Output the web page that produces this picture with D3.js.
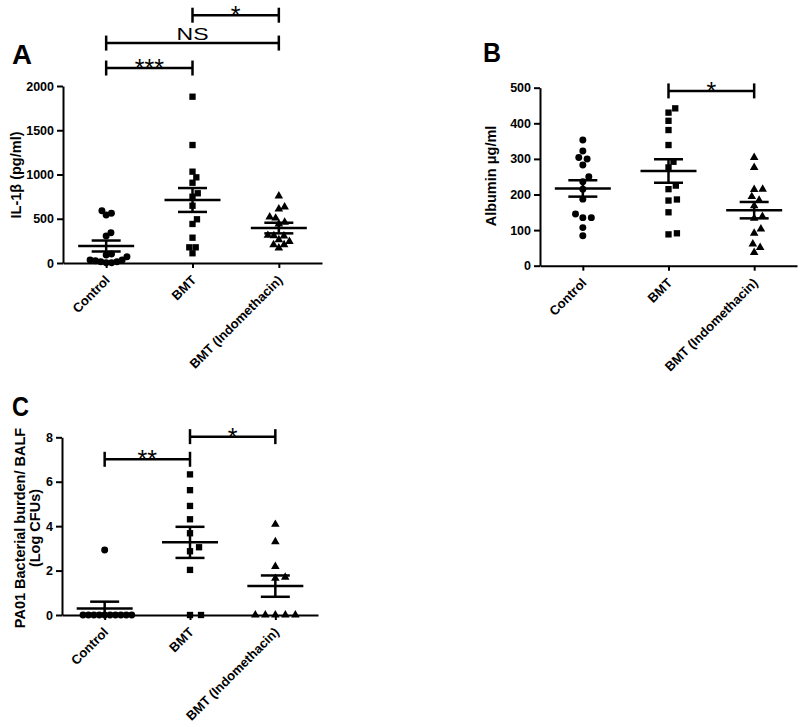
<!DOCTYPE html>
<html><head><meta charset="utf-8">
<script src="https://cdn.jsdelivr.net/npm/d3@7"></script>
<style>
body{margin:0;background:#fff}
svg{display:block}
text{font-family:"Liberation Sans",Arial,Helvetica,sans-serif}
</style>
</head><body>
<svg id="chart" width="800" height="727"></svg>
<script>
// ---------------- DATA ----------------
const categories = ["Control", "BMT", "BMT (Indomethacin)"];

// Panel A: IL-1β (pg/ml)
const il1bControl = [591, 542, 561, 342, 305, 102, 71, 34, 15, 3, 3, 15, 26, 34, 90];
const il1bBMT     = [1879, 1333, 1032, 968, 907, 788, 749, 647, 494, 441, 286, 177, 177, 110];
const il1bIndo    = [757, 610, 632, 519, 507, 460, 440, 263, 308, 305, 312, 244, 207, 207, 169];
const il1bMean    = [192, 712, 395];
const il1bSem     = [62, 135, 60];
const il1bTicks   = [0, 500, 1000, 1500, 2000];
const il1bSigFrom = [1, 0, 0];
const il1bSigTo   = [2, 2, 1];
const il1bSigAt   = [2800, 2485, 2203];
const il1bSigText = ["*", "NS", "***"];

// Panel B: Albumin μg/ml
const albControl = [353, 322, 304, 300, 283, 250, 236, 215, 187, 135, 135, 145, 107, 84];
const albBMT     = [442, 430, 407, 381, 339, 292, 276, 225, 215, 183, 186, 150, 88, 91];
const albIndo    = [304, 276, 214, 215, 184, 194, 168, 133, 138, 103, 91, 61, 51, 37];
const albMean    = [217, 266, 156];
const albSem     = [23, 33, 23];
const albTicks   = [0, 100, 200, 300, 400, 500];
const albSigFrom = [1];
const albSigTo   = [2];
const albSigAt   = [491];
const albSigText = ["*"];

// Panel C: PA01 bacterial burden / BALF (Log CFUs)
const cfuControl = [2.93, 0, 0, 0, 0, 0, 0, 0, 0, 0, 0];
const cfuBMT     = [6.33, 5.62, 4.91, 4.31, 3.68, 3.05, 2.87, 2.03, 0, 0];
const cfuIndo    = [4.08, 3.30, 2.18, 1.70, 1.65, 0, 0, 0, 0, 0];
const cfuMean    = [0.29, 3.27, 1.30];
const cfuSem     = [0.31, 0.70, 0.48];
const cfuTicks   = [0, 2, 4, 6, 8];
const cfuSigFrom = [0, 1];
const cfuSigTo   = [1, 2];
const cfuSigAt   = [7.01, 8.03];
const cfuSigText = ["**", "*"];

// ---------------- LAYOUT ----------------
const panels = [
  { letter: "A", lx: 12, ly: 64, lw: 20,
    series: [il1bControl, il1bBMT, il1bIndo], mean: il1bMean, sem: il1bSem,
    ticks: il1bTicks, domain: [0, 2000],
    sig: il1bSigFrom.map((f, i) => ({ a: f, b: il1bSigTo[i], h: il1bSigAt[i], t: il1bSigText[i] })),
    left: 63, right: 322, bottom: 263, top: 86,
    title: ["IL-1β (pg/ml)"], titleX: [16], titleY: 175,
    sx: [5.4, 6, 6], sy: 7 },
  { letter: "B", lx: 483, ly: 62, lw: 18,
    series: [albControl, albBMT, albIndo], mean: albMean, sem: albSem,
    ticks: albTicks, domain: [0, 500],
    sig: albSigFrom.map((f, i) => ({ a: f, b: albSigTo[i], h: albSigAt[i], t: albSigText[i] })),
    left: 540, right: 797, bottom: 265.7, top: 87.7,
    title: ["Albumin μg/ml"], titleX: [491], titleY: 176,
    sx: [8.5, 8.5, 8.5], sy: 7 },
  { letter: "C", lx: 12, ly: 416, lw: 17,
    series: [cfuControl, cfuBMT, cfuIndo], mean: cfuMean, sem: cfuSem,
    ticks: cfuTicks, domain: [0, 8],
    sig: cfuSigFrom.map((f, i) => ({ a: f, b: cfuSigTo[i], h: cfuSigAt[i], t: cfuSigText[i] })),
    left: 62, right: 318, bottom: 615, top: 437.3,
    title: ["PA01 Bacterial burden/ BALF", "(Log CFUs)"], titleX: [20, 35], titleY: 528,
    sx: [5.4, 11, 10], sy: 7 }
];

const svg = d3.select("#chart");
const symbols = [d3.symbolCircle, d3.symbolSquare, d3.symbolTriangle];
const symSize = [38, 40, 32];

function swarm(vals, y, cx, sx, sy) {
  const order = vals.map((v, i) => i).sort((i, j) => vals[i] - vals[j]);
  const placed = [];
  const out = new Array(vals.length);
  order.forEach(i => {
    const py = y(vals[i]);
    const near = placed.filter(p => Math.abs(p.y - py) < sy);
    const cands = [0];
    near.forEach(p => {
      const dy = (p.y - py) / sy;
      const dx = sx * Math.sqrt(Math.max(0, 1 - dy * dy));
      cands.push(p.x + dx + 0.01, p.x - dx - 0.01);
    });
    cands.sort((a, b) => (Math.abs(a) - Math.abs(b)) || (b - a));
    const ok = c => near.every(p => {
      const dx = (c - p.x) / sx, dy = (py - p.y) / sy;
      return dx * dx + dy * dy >= 0.998;
    });
    const x = cands.find(ok);
    placed.push({ x, y: py });
    out[i] = { x: cx + x, y: py, v: vals[i] };
  });
  return out;
}

panels.forEach(P => {
  const g = svg.append("g");
  const x = d3.scalePoint().domain(categories).range([P.left, P.right]).padding(0.5);
  const y = d3.scaleLinear().domain(P.domain).range([P.bottom, P.top]);

  // panel letter
  g.append("text").attr("x", P.lx).attr("y", P.ly)
    .attr("font-size", 28).attr("font-weight", "bold")
    .attr("textLength", P.lw).attr("lengthAdjust", "spacingAndGlyphs")
    .text(P.letter);

  // y axis
  const ya = g.append("g").attr("transform", `translate(${P.left},0)`)
    .call(d3.axisLeft(y).tickValues(P.ticks).tickFormat(d3.format("d"))
      .tickSize(6).tickSizeOuter(0).tickPadding(3));
  ya.select(".domain").attr("stroke-width", 2);
  ya.selectAll(".tick line").attr("stroke-width", 2);
  ya.selectAll(".tick text").attr("font-size", 12.5).attr("font-weight", "bold")
    .attr("font-family", '"Liberation Sans",Arial,sans-serif');

  // x axis
  const xa = g.append("g").attr("transform", `translate(0,${P.bottom})`)
    .call(d3.axisBottom(x).tickSize(5).tickSizeOuter(0));
  xa.select(".domain").attr("stroke-width", 2);
  xa.selectAll(".tick line").attr("stroke-width", 2);
  xa.selectAll(".tick text")
    .attr("font-size", 13).attr("font-weight", "bold")
    .attr("font-family", '"Liberation Sans",Arial,sans-serif')
    .attr("text-anchor", "end")
    .attr("x", 0).attr("y", 0).attr("dy", 0)
    .attr("transform", "translate(4,18) rotate(-45)");

  // y title
  P.title.forEach((t, i) => {
    g.append("text")
      .attr("transform", `translate(${P.titleX[i]},${P.titleY}) rotate(-90)`)
      .attr("text-anchor", "middle").attr("dominant-baseline", "central")
      .attr("font-size", 14.5).attr("font-weight", "bold")
      .text(t);
  });

  // points
  P.series.forEach((vals, gi) => {
    const pts = swarm(vals, y, x(categories[gi]), P.sx[gi], P.sy);
    g.append("g").selectAll("path").data(pts).join("path")
      .attr("transform", d => `translate(${d.x},${d.y})`)
      .attr("d", d3.symbol().type(symbols[gi]).size(symSize[gi]))
      .attr("fill", "#000");
  });

  // mean ± SEM
  const eb = g.append("g").attr("stroke", "#000").attr("stroke-width", 2.5).attr("fill", "none");
  categories.forEach((c, gi) => {
    const cx = x(c), m = P.mean[gi], s = P.sem[gi];
    const lo = Math.max(P.domain[0], m - s);
    eb.append("line").attr("x1", cx - 28).attr("x2", cx + 28).attr("y1", y(m)).attr("y2", y(m));
    eb.append("line").attr("x1", cx).attr("x2", cx).attr("y1", y(m + s)).attr("y2", y(lo));
    eb.append("line").attr("x1", cx - 14.5).attr("x2", cx + 14.5).attr("y1", y(m + s)).attr("y2", y(m + s));
    if (m - s > P.domain[0])
      eb.append("line").attr("x1", cx - 14.5).attr("x2", cx + 14.5).attr("y1", y(m - s)).attr("y2", y(m - s));
  });

  // significance brackets
  P.sig.forEach(s => {
    const x1 = x(categories[s.a]), x2 = x(categories[s.b]), yy = y(s.h);
    const sg = g.append("g").attr("stroke", "#000").attr("stroke-width", 2.5);
    sg.append("line").attr("x1", x1).attr("x2", x2).attr("y1", yy).attr("y2", yy);
    sg.append("line").attr("x1", x1).attr("x2", x1).attr("y1", yy - 7.5).attr("y2", yy + 7.5);
    sg.append("line").attr("x1", x2).attr("x2", x2).attr("y1", yy - 7.5).attr("y2", yy + 7.5);
    const t = g.append("text").attr("x", (x1 + x2) / 2).attr("text-anchor", "middle").text(s.t);
    if (s.t === "NS") {
      t.attr("y", yy - 3).attr("font-size", 17).attr("textLength", 32).attr("lengthAdjust", "spacingAndGlyphs");
    } else {
      t.attr("y", yy + 9).attr("font-size", 25);
    }
  });
});
</script>
</body></html>
